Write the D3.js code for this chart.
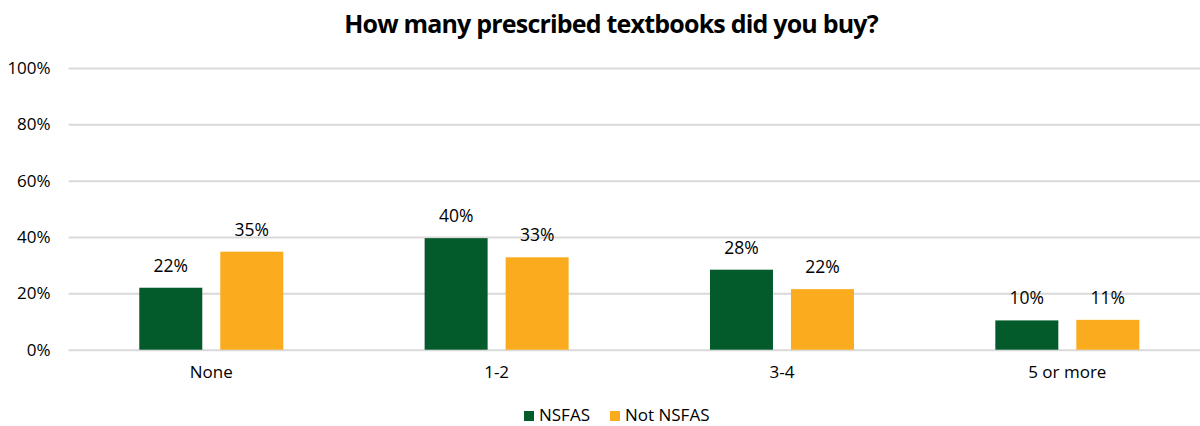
<!DOCTYPE html>
<html>
<head>
<meta charset="utf-8">
<script src="https://cdn.jsdelivr.net/npm/d3@7"></script>
<style>
  html, body { margin: 0; padding: 0; background: #fff; }
  svg { display: block; }
</style>
</head>
<body>
<svg id="chart" width="1200" height="426"></svg>
<script>
const title = "How many prescribed textbooks did you buy?";
const categories = ["None", "1-2", "3-4", "5 or more"];
const seriesNames = ["NSFAS", "Not NSFAS"];
const nsfas = [22, 39.6, 28.4, 10.4];
const notNsfas = [34.8, 32.8, 21.5, 10.6];
const yTicks = [0, 20, 40, 60, 80, 100];

const colors = ["#035B2C", "#FBAB1E"];
const font = "'Open Sans', sans-serif";

const svg = d3.select("#chart");
const W = 1200, H = 426;
const plotLeft = 68.6, plotRight = 1210, plotTop = 68, plotBottom = 349.7;

const x = d3.scaleBand().domain(categories).range([plotLeft, plotRight]).paddingInner(0).paddingOuter(0);
const y = d3.scaleLinear().domain([0, 100]).range([plotBottom, plotTop]);
const barW = 63, gap = 18;
const x1 = d3.scaleOrdinal().domain(seriesNames).range([-(barW + gap / 2), gap / 2]);

// title
svg.append("text")
  .attr("x", 611).attr("y", 33)
  .attr("text-anchor", "middle")
  .attr("font-family", font).attr("font-weight", "bold")
  .attr("font-size", 25).attr("letter-spacing", -0.8)
  .attr("fill", "#000")
  .text(title);

// gridlines
const yAxis = d3.axisLeft(y).tickValues(yTicks).tickFormat(d => d + "%").tickSize(-(W - plotLeft)).tickPadding(18);
const gAxis = svg.append("g").attr("transform", `translate(${plotLeft},0)`).call(yAxis);
gAxis.select(".domain").remove();
gAxis.selectAll(".tick line").attr("stroke", "#D9D9D9").attr("stroke-width", 2);
gAxis.selectAll(".tick text")
  .attr("font-family", font).attr("font-size", 17).attr("fill", "#000");

// bars
const data = [];
categories.forEach((c, i) => {
  data.push({ cat: c, s: seriesNames[0], v: nsfas[i] });
  data.push({ cat: c, s: seriesNames[1], v: notNsfas[i] });
});
const center = c => x(c) + x.bandwidth() / 2;

svg.append("g").selectAll("rect").data(data).join("rect")
  .attr("x", d => center(d.cat) + x1(d.s))
  .attr("y", d => y(d.v))
  .attr("width", barW)
  .attr("height", d => y(0) - y(d.v))
  .attr("fill", d => colors[seriesNames.indexOf(d.s)]);

svg.append("g").selectAll("text").data(data).join("text")
  .attr("x", d => center(d.cat) + x1(d.s) + barW / 2)
  .attr("y", d => y(d.v) - 16)
  .attr("text-anchor", "middle")
  .attr("font-family", font).attr("font-size", 17.5).attr("fill", "#000")
  .text(d => Math.round(d.v) + "%");

// category labels
const xAxis = d3.axisBottom(x).tickSize(0).tickPadding(16);
const gx = svg.append("g").attr("transform", `translate(0,${plotBottom})`).call(xAxis);
gx.select(".domain").remove();
gx.selectAll(".tick text").attr("font-family", font).attr("font-size", 17).attr("fill", "#000");

// legend
const legend = svg.append("g");
const legendX = [524, 610];
seriesNames.forEach((s, i) => {
  legend.append("rect").attr("x", legendX[i]).attr("y", 411).attr("width", 10).attr("height", 10).attr("fill", colors[i]);
  legend.append("text").attr("x", legendX[i] + 15).attr("y", 421)
    .attr("font-family", font).attr("font-size", 17).attr("fill", "#000").text(s);
});
</script>
</body>
</html>
